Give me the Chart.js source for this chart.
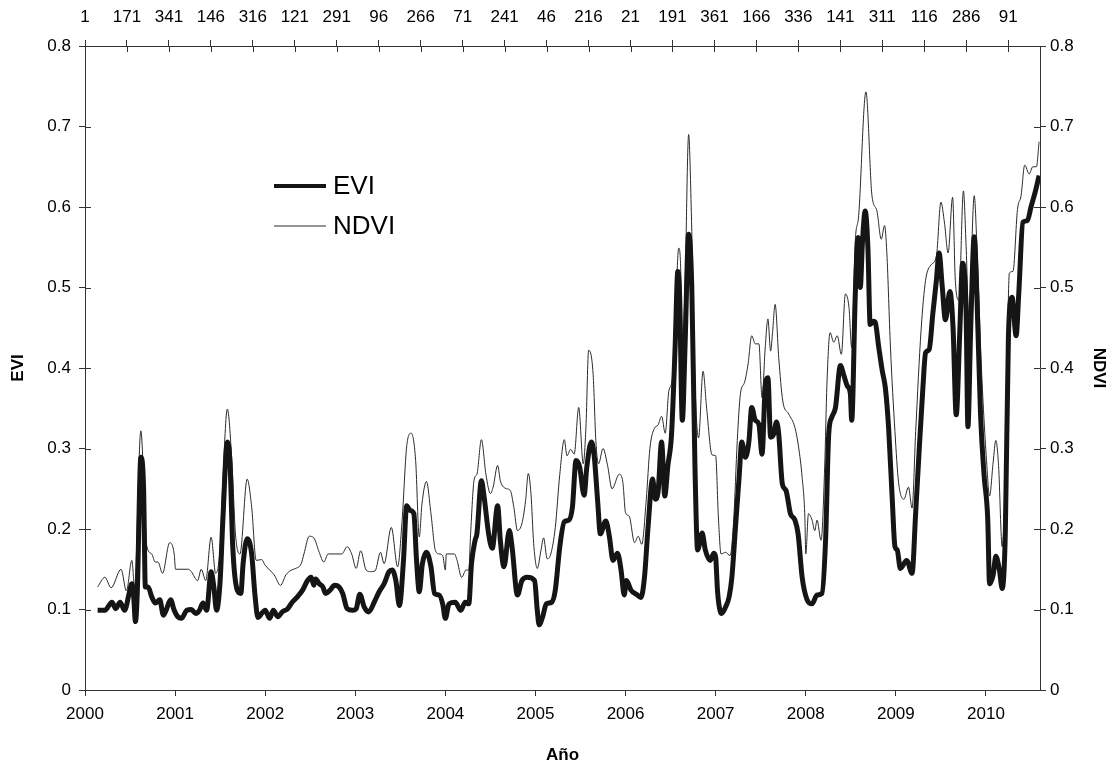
<!DOCTYPE html>
<html>
<head>
<meta charset="utf-8">
<script src="https://cdn.jsdelivr.net/npm/chart.js@4.4.1/dist/chart.umd.min.js"></script>
<style>
  html, body { margin: 0; padding: 0; background: #fff; }
</style>
</head>
<body>
<canvas id="chart" width="1114" height="766"></canvas>
<script>
// --- data (decimal year, index value)
const eviYears = [
  2000.14, 2000.22, 2000.30, 2000.34, 2000.39, 2000.44, 2000.49, 2000.52, 2000.54, 2000.56,
  2000.58, 2000.62, 2000.65, 2000.67, 2000.70, 2000.74, 2000.78, 2000.83, 2000.87, 2000.90,
  2000.95, 2000.99, 2001.03, 2001.07, 2001.13, 2001.18, 2001.23, 2001.27, 2001.31, 2001.35,
  2001.40, 2001.43, 2001.46, 2001.50, 2001.53, 2001.58, 2001.61, 2001.64, 2001.69, 2001.73,
  2001.755, 2001.80, 2001.85, 2001.885, 2001.92, 2001.96, 2002.00, 2002.05, 2002.09, 2002.14,
  2002.19, 2002.25, 2002.30, 2002.36, 2002.415, 2002.47, 2002.51, 2002.54, 2002.56, 2002.60,
  2002.64, 2002.67, 2002.72, 2002.77, 2002.82, 2002.86, 2002.91, 2002.97, 2003.01, 2003.05,
  2003.10, 2003.15, 2003.21, 2003.265, 2003.32, 2003.375, 2003.41, 2003.45, 2003.49, 2003.535,
  2003.57, 2003.61, 2003.65, 2003.68, 2003.71, 2003.745, 2003.79, 2003.84, 2003.88, 2003.93,
  2003.97, 2004.00, 2004.04, 2004.11, 2004.17, 2004.22, 2004.26, 2004.29, 2004.33, 2004.35,
  2004.40, 2004.43, 2004.48, 2004.52, 2004.58, 2004.61, 2004.65, 2004.71, 2004.74, 2004.80,
  2004.85, 2004.91, 2004.99, 2005.02, 2005.04, 2005.08, 2005.12, 2005.18, 2005.22, 2005.27,
  2005.32, 2005.37, 2005.41, 2005.45, 2005.49, 2005.54, 2005.57, 2005.62, 2005.65, 2005.69,
  2005.72, 2005.78, 2005.82, 2005.86, 2005.91, 2005.95, 2005.985, 2006.01, 2006.06, 2006.12,
  2006.17, 2006.21, 2006.25, 2006.30, 2006.33, 2006.36, 2006.40, 2006.435, 2006.47, 2006.51,
  2006.55, 2006.58, 2006.60, 2006.63, 2006.66, 2006.70, 2006.735, 2006.77, 2006.80, 2006.85,
  2006.885, 2006.94, 2006.98, 2007.00, 2007.02, 2007.035, 2007.065, 2007.11, 2007.15, 2007.18,
  2007.22, 2007.26, 2007.29, 2007.33, 2007.37, 2007.40, 2007.44, 2007.48, 2007.515, 2007.55,
  2007.58, 2007.61, 2007.645, 2007.675, 2007.70, 2007.74, 2007.78, 2007.83, 2007.88, 2007.915,
  2007.96, 2008.015, 2008.07, 2008.125, 2008.18, 2008.22, 2008.255, 2008.29, 2008.33, 2008.385,
  2008.42, 2008.46, 2008.495, 2008.51, 2008.55, 2008.58, 2008.605, 2008.63, 2008.66, 2008.69,
  2008.715, 2008.75, 2008.77, 2008.81, 2008.85, 2008.884, 2008.92, 2008.96, 2008.99, 2009.015,
  2009.05, 2009.12, 2009.18, 2009.22, 2009.26, 2009.30, 2009.33, 2009.37, 2009.41, 2009.45,
  2009.48, 2009.515, 2009.55, 2009.60, 2009.635, 2009.67, 2009.71, 2009.74, 2009.78, 2009.80,
  2009.83, 2009.87, 2009.90, 2009.94, 2009.98, 2010.02, 2010.04, 2010.08, 2010.11, 2010.15,
  2010.18, 2010.215, 2010.25, 2010.29, 2010.335, 2010.365, 2010.41, 2010.46, 2010.50, 2010.55,
  2010.59
];
const eviValues = [
  0.099, 0.099, 0.109, 0.101, 0.109, 0.099, 0.120, 0.132, 0.116, 0.085,
  0.120, 0.289, 0.252, 0.128, 0.128, 0.116, 0.108, 0.112, 0.093, 0.099,
  0.112, 0.099, 0.091, 0.089, 0.099, 0.100, 0.095, 0.099, 0.108, 0.099,
  0.147, 0.128, 0.099, 0.136, 0.211, 0.308, 0.281, 0.178, 0.124, 0.120,
  0.157, 0.188, 0.169, 0.120, 0.090, 0.095, 0.099, 0.089, 0.099, 0.091,
  0.097, 0.101, 0.109, 0.116, 0.124, 0.136, 0.140, 0.130, 0.138, 0.132,
  0.128, 0.120, 0.124, 0.130, 0.128, 0.120, 0.101, 0.099, 0.101, 0.119,
  0.103, 0.097, 0.109, 0.122, 0.132, 0.147, 0.149, 0.136, 0.105, 0.161,
  0.229, 0.223, 0.219, 0.161, 0.122, 0.157, 0.171, 0.153, 0.120, 0.118,
  0.107, 0.089, 0.107, 0.109, 0.099, 0.109, 0.107, 0.157, 0.186, 0.194,
  0.260, 0.240, 0.194, 0.176, 0.229, 0.186, 0.153, 0.198, 0.178, 0.118,
  0.136, 0.140, 0.136, 0.099, 0.081, 0.091, 0.107, 0.109, 0.124, 0.178,
  0.209, 0.211, 0.227, 0.285, 0.277, 0.242, 0.277, 0.308, 0.293, 0.235,
  0.194, 0.210, 0.191, 0.161, 0.170, 0.149, 0.118, 0.136, 0.124, 0.119,
  0.115, 0.140, 0.203, 0.262, 0.237, 0.245, 0.308, 0.241, 0.279, 0.317,
  0.426, 0.520, 0.489, 0.335, 0.426, 0.566, 0.501, 0.279, 0.174, 0.195,
  0.174, 0.161, 0.170, 0.165, 0.124, 0.107, 0.095, 0.103, 0.116, 0.140,
  0.202, 0.264, 0.308, 0.289, 0.310, 0.351, 0.335, 0.330, 0.293, 0.376,
  0.388, 0.314, 0.318, 0.333, 0.318, 0.256, 0.248, 0.219, 0.211, 0.194,
  0.140, 0.112, 0.107, 0.118, 0.120, 0.186, 0.318, 0.339, 0.351, 0.403,
  0.392, 0.378, 0.368, 0.335, 0.492, 0.562, 0.500, 0.558, 0.595, 0.549,
  0.454, 0.458, 0.457, 0.426, 0.396, 0.375, 0.325, 0.237, 0.178, 0.174,
  0.151, 0.161, 0.145, 0.220, 0.300, 0.375, 0.419, 0.423, 0.467, 0.509,
  0.543, 0.501, 0.460, 0.495, 0.450, 0.342, 0.446, 0.530, 0.467, 0.327,
  0.446, 0.563, 0.488, 0.342, 0.266, 0.212, 0.132, 0.143, 0.166, 0.149,
  0.126, 0.195, 0.442, 0.488, 0.440, 0.494, 0.581, 0.583, 0.600, 0.620,
  0.639
];

const ndviYears = [
  2000.14, 2000.22, 2000.29, 2000.40, 2000.46, 2000.52, 2000.55, 2000.62, 2000.665, 2000.684,
  2000.74, 2000.78, 2000.81, 2000.86, 2000.94, 2000.99, 2001.005, 2001.15, 2001.18, 2001.25,
  2001.29, 2001.34, 2001.40, 2001.45, 2001.50, 2001.53, 2001.58, 2001.63, 2001.67, 2001.72,
  2001.80, 2001.85, 2001.90, 2001.96, 2002.00, 2002.05, 2002.10, 2002.17, 2002.23, 2002.29,
  2002.34, 2002.40, 2002.43, 2002.49, 2002.54, 2002.60, 2002.65, 2002.70, 2002.77, 2002.85,
  2002.91, 2002.96, 2003.01, 2003.06, 2003.12, 2003.17, 2003.22, 2003.28, 2003.32, 2003.40,
  2003.47, 2003.52, 2003.57, 2003.62, 2003.67, 2003.71, 2003.74, 2003.79, 2003.84, 2003.89,
  2003.93, 2003.97, 2004.00, 2004.01, 2004.10, 2004.13, 2004.18, 2004.23, 2004.26, 2004.28,
  2004.32, 2004.35, 2004.40, 2004.45, 2004.50, 2004.53, 2004.58, 2004.61, 2004.68, 2004.72,
  2004.76, 2004.80, 2004.85, 2004.89, 2004.92, 2004.95, 2004.98, 2005.02, 2005.06, 2005.09,
  2005.13, 2005.17, 2005.22, 2005.27, 2005.32, 2005.35, 2005.39, 2005.43, 2005.48, 2005.53,
  2005.56, 2005.59, 2005.64, 2005.67, 2005.70, 2005.75, 2005.80, 2005.85, 2005.93, 2005.97,
  2006.00, 2006.04, 2006.10, 2006.14, 2006.18, 2006.23, 2006.27, 2006.32, 2006.36, 2006.40,
  2006.44, 2006.48, 2006.52, 2006.56, 2006.59, 2006.61, 2006.63, 2006.66, 2006.70, 2006.73,
  2006.77, 2006.81, 2006.86, 2006.90, 2006.96, 2007.00, 2007.03, 2007.06, 2007.11, 2007.16,
  2007.20, 2007.24, 2007.275, 2007.32, 2007.36, 2007.40, 2007.44, 2007.48, 2007.515, 2007.55,
  2007.58, 2007.61, 2007.63, 2007.66, 2007.70, 2007.745, 2007.81, 2007.88, 2007.92, 2007.96,
  2007.99, 2008.00, 2008.03, 2008.07, 2008.10, 2008.125, 2008.17, 2008.21, 2008.235, 2008.27,
  2008.31, 2008.35, 2008.395, 2008.44, 2008.48, 2008.51, 2008.55, 2008.587, 2008.668, 2008.734,
  2008.79, 2008.838, 2008.875, 2008.90, 2008.94, 2008.99, 2009.03, 2009.09, 2009.14, 2009.18,
  2009.22, 2009.28, 2009.33, 2009.39, 2009.45, 2009.50, 2009.54, 2009.58, 2009.63, 2009.66,
  2009.70, 2009.75, 2009.78, 2009.81, 2009.87, 2009.90, 2009.95, 2010.01, 2010.04, 2010.08,
  2010.11, 2010.14, 2010.18, 2010.215, 2010.26, 2010.30, 2010.35, 2010.39, 2010.43, 2010.48,
  2010.52, 2010.56, 2010.59
];
const ndviValues = [
  0.128, 0.140, 0.127, 0.150, 0.123, 0.161, 0.128, 0.322, 0.219, 0.180,
  0.169, 0.159, 0.159, 0.145, 0.183, 0.169, 0.150, 0.150, 0.147, 0.136,
  0.150, 0.136, 0.190, 0.145, 0.178, 0.260, 0.349, 0.285, 0.194, 0.169,
  0.262, 0.227, 0.161, 0.162, 0.155, 0.149, 0.143, 0.130, 0.143, 0.149,
  0.151, 0.157, 0.169, 0.191, 0.189, 0.171, 0.159, 0.169, 0.169, 0.169,
  0.178, 0.169, 0.151, 0.173, 0.149, 0.147, 0.148, 0.171, 0.157, 0.202,
  0.153, 0.211, 0.302, 0.319, 0.285, 0.190, 0.231, 0.259, 0.219, 0.173,
  0.169, 0.167, 0.149, 0.169, 0.169, 0.161, 0.140, 0.149, 0.149, 0.194,
  0.262, 0.268, 0.311, 0.268, 0.244, 0.252, 0.279, 0.260, 0.250, 0.248,
  0.227, 0.198, 0.207, 0.235, 0.269, 0.244, 0.182, 0.151, 0.173, 0.189,
  0.163, 0.169, 0.202, 0.268, 0.311, 0.291, 0.299, 0.293, 0.351, 0.281,
  0.326, 0.422, 0.392, 0.310, 0.281, 0.300, 0.279, 0.250, 0.268, 0.258,
  0.220, 0.216, 0.183, 0.191, 0.181, 0.237, 0.300, 0.325, 0.329, 0.340,
  0.319, 0.371, 0.388, 0.489, 0.549, 0.530, 0.426, 0.501, 0.690, 0.593,
  0.384, 0.313, 0.396, 0.350, 0.292, 0.291, 0.215, 0.169, 0.171, 0.167,
  0.211, 0.310, 0.368, 0.382, 0.405, 0.440, 0.430, 0.430, 0.363, 0.425,
  0.461, 0.421, 0.442, 0.479, 0.413, 0.359, 0.343, 0.326, 0.302, 0.264,
  0.215, 0.169, 0.219, 0.211, 0.198, 0.211, 0.186, 0.277, 0.380, 0.444,
  0.432, 0.440, 0.417, 0.492, 0.475, 0.425, 0.558, 0.589, 0.743, 0.615,
  0.595, 0.560, 0.577, 0.543, 0.426, 0.321, 0.258, 0.237, 0.252, 0.226,
  0.321, 0.447, 0.509, 0.528, 0.539, 0.606, 0.580, 0.543, 0.612, 0.509,
  0.484, 0.620, 0.551, 0.463, 0.614, 0.551, 0.400, 0.279, 0.241, 0.283,
  0.310, 0.279, 0.178, 0.258, 0.518, 0.520, 0.597, 0.614, 0.652, 0.641,
  0.650, 0.650, 0.681
];

// top axis: day-of-year labels every 170 days from 1 Jan 2000
const topDayLabels = ['1', '171', '341', '146', '316', '121', '291', '96', '266', '71', '241', '46',
  '216', '21', '191', '361', '166', '336', '141', '311', '116', '286', '91'];
const topStep = 170;

const xMin = 2000;
const xMax = 2010.6;

const FONT = "'Liberation Sans', Arial, sans-serif";
const AXIS = '#333';

function toPoints(xs, ys) { return xs.map((x, i) => ({ x, y: ys[i] })); }
function indexLabel(v) { return v === 0 ? '0' : v.toFixed(1); }

// Excel style crossing tick marks: draw the inner half on the left, right and top axes
const crossTicks = {
  id: 'crossTicks',
  beforeDatasetsDraw(chart) {
    const { ctx, chartArea: a, scales } = chart;
    const len = 6;
    ctx.save();
    ctx.strokeStyle = AXIS;
    ctx.lineWidth = 1;
    ctx.beginPath();
    scales.y.ticks.forEach(t => {
      const py = Math.round(scales.y.getPixelForValue(t.value)) + 0.5;
      ctx.moveTo(a.left, py); ctx.lineTo(a.left + len, py);
    });
    scales.y2.ticks.forEach(t => {
      const py = Math.round(scales.y2.getPixelForValue(t.value)) + 0.5;
      ctx.moveTo(a.right - len, py); ctx.lineTo(a.right, py);
    });
    scales.x2.ticks.forEach(t => {
      const px = Math.round(scales.x2.getPixelForValue(t.value)) + 0.5;
      ctx.moveTo(px, a.top); ctx.lineTo(px, a.top + len);
    });
    ctx.stroke();
    ctx.restore();
  }
};

// legend sits inside the plot, upper left
const insetLegend = {
  id: 'insetLegend',
  afterDraw(chart) {
    const ctx = chart.ctx;
    ctx.save();
    chart.data.datasets.forEach((ds, i) => {
      const y = 186 + i * 40;
      ctx.strokeStyle = ds.borderColor;
      ctx.lineWidth = i === 0 ? 4 : 1;
      ctx.beginPath();
      ctx.moveTo(274, y); ctx.lineTo(326, y);
      ctx.stroke();
      ctx.fillStyle = '#000';
      ctx.font = `26px ${FONT}`;
      ctx.textBaseline = 'middle';
      ctx.fillText(ds.label, 333, y + 1);
    });
    ctx.restore();
  }
};

const tickFont = { family: FONT, size: 17 };
const titleFont = { family: FONT, size: 17, weight: 'bold' };

new Chart(document.getElementById('chart'), {
  type: 'line',
  data: {
    datasets: [
      {
        label: 'EVI', data: toPoints(eviYears, eviValues), xAxisID: 'x', yAxisID: 'y',
        borderColor: '#151515', borderWidth: 5, pointRadius: 0,
        cubicInterpolationMode: 'monotone', fill: false
      },
      {
        label: 'NDVI', data: toPoints(ndviYears, ndviValues), xAxisID: 'x', yAxisID: 'y2',
        borderColor: '#2a2a2a', borderWidth: 1, pointRadius: 0,
        cubicInterpolationMode: 'monotone', fill: false
      }
    ]
  },
  options: {
    responsive: false,
    animation: false,
    devicePixelRatio: 1,
    layout: { padding: 0 },
    plugins: { legend: { display: false }, tooltip: { enabled: false } },
    scales: {
      x: {
        type: 'linear', position: 'bottom', min: xMin, max: xMax,
        afterFit: s => { s.height = 76; },
        border: { color: AXIS, width: 1 },
        grid: { drawOnChartArea: false, tickLength: 6, color: AXIS },
        ticks: {
          stepSize: 1, includeBounds: false, maxRotation: 0, color: '#000',
          font: tickFont, padding: 8, callback: v => String(v)
        },
        title: { display: true, text: 'Año', color: '#000', font: titleFont, padding: { top: 0, bottom: 0 } }
      },
      x2: {
        type: 'linear', position: 'top', min: 0, max: (xMax - xMin) * 365,
        afterFit: s => { s.height = 46; },
        afterBuildTicks: s => { s.ticks = topDayLabels.map((_, i) => ({ value: i * topStep })); },
        border: { color: AXIS, width: 1 },
        grid: { drawOnChartArea: false, tickLength: 6, color: AXIS },
        ticks: {
          autoSkip: false, maxRotation: 0, color: '#000', font: tickFont, padding: 12,
          callback: (v, i) => topDayLabels[i]
        }
      },
      y: {
        position: 'left', min: 0, max: 0.8,
        afterFit: s => { s.width = 85; },
        border: { color: AXIS, width: 1 },
        grid: { drawOnChartArea: false, tickLength: 6, color: AXIS },
        ticks: { stepSize: 0.1, color: '#000', font: tickFont, padding: 8, callback: indexLabel },
        title: { display: true, text: 'EVI', color: '#000', font: titleFont, padding: { top: 8, bottom: 0 } }
      },
      y2: {
        position: 'right', min: 0, max: 0.8,
        afterFit: s => { s.width = 74; },
        border: { color: AXIS, width: 1 },
        grid: { drawOnChartArea: false, tickLength: 6, color: AXIS },
        ticks: { stepSize: 0.1, color: '#000', font: tickFont, padding: 4, callback: indexLabel },
        title: { display: true, text: 'NDVI', color: '#000', font: titleFont, padding: { top: 5, bottom: 0 } }
      }
    }
  },
  plugins: [crossTicks, insetLegend]
});
</script>
</body>
</html>
